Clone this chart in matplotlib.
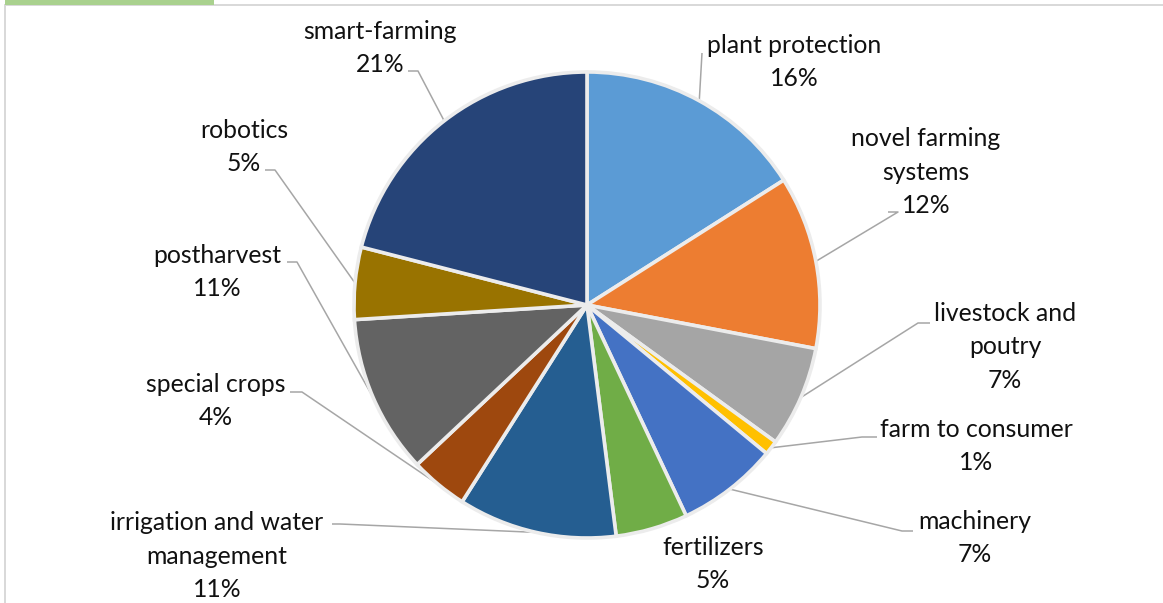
import numpy as np
import matplotlib
matplotlib.use("Agg")
import matplotlib.pyplot as plt
from matplotlib.patches import Rectangle

plt.rcParams['font.family'] = ['Lato', 'DejaVu Sans']

categories = ["plant protection", "novel farming\nsystems", "livestock and\npoutry",
              "farm to consumer", "machinery", "fertilizers",
              "irrigation and water\nmanagement", "special crops", "postharvest",
              "robotics", "smart-farming"]
shares = [16, 12, 7, 1, 7, 5, 11, 4, 11, 5, 21]

colors = ["#5B9BD5", "#ED7D31", "#A5A5A5", "#FFC000", "#4472C4", "#70AD47",
          "#255E91", "#9E480E", "#636363", "#997300", "#264478"]

# label block centres and leader-line bends, in pixel coordinates (y down)
label_pos = [(794, 62), (926, 172), (1005, 347), (976, 446), (975, 538), (713, 564),
             (217, 556), (216, 401), (217, 272), (244, 147), (380, 48)]
leader_bends = [[(702, 53)],
                [(898, 212), (888, 212)],
                [(918, 323), (930, 323)],
                [(862, 437), (877, 437)],
                [(902, 531), (913, 531)],
                None,
                [(340, 524), (332, 524)],
                [(302, 392), (290, 392)],
                [(297, 262), (287, 262)],
                [(275, 170), (265, 170)],
                [(418, 71), (408, 71)]]

W, H = 1163, 603
fig = plt.figure(figsize=(W / 100, H / 100), dpi=100)
ax = fig.add_axes([0, 0, 1, 1])

cx, cy, r = 587, 305, 233
explode = [7 / r] + [0] * (len(shares) - 1)
wedges, _ = ax.pie(shares, colors=colors, startangle=-90, counterclock=True,
                   center=(cx, cy), radius=r, explode=explode,
                   wedgeprops=dict(edgecolor="#ececec", linewidth=2.6))

ax.set_xlim(0, W)
ax.set_ylim(H, 0)
ax.set_aspect("auto")
ax.axis("off")

for w, name, val, (lx, ly), bends in zip(wedges, categories, shares, label_pos, leader_bends):
    ax.text(lx, ly, f"{name}\n{val}%", ha="center", va="center", multialignment="center",
            fontsize=17.8, color="#111111", linespacing=1.55)
    if bends is None:
        continue
    mid = np.deg2rad((w.theta1 + w.theta2) / 2)
    ex = w.center[0] + w.r * np.cos(mid)
    ey = w.center[1] + w.r * np.sin(mid)
    xs = [ex] + [b[0] for b in bends]
    ys = [ey] + [b[1] for b in bends]
    ax.plot(xs, ys, color="#a6a6a6", lw=1.1, solid_capstyle="butt", zorder=0.5)

# frame and tab accent
ax.add_patch(Rectangle((4, 4), W, 2, color="#d9d9d9", clip_on=False, lw=0))
ax.add_patch(Rectangle((4, 4), 2, H, color="#d9d9d9", clip_on=False, lw=0))
ax.add_patch(Rectangle((5, 0), 209, 4.5, color="#a9d18e", clip_on=False, lw=0))

fig.savefig("out.png", dpi=100, facecolor="white")
